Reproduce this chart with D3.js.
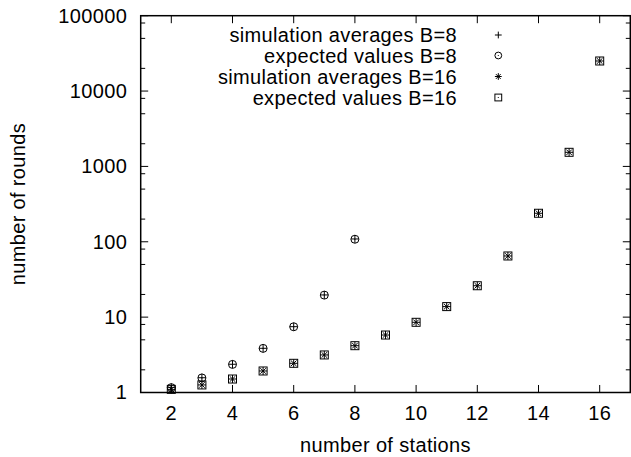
<!DOCTYPE html>
<html>
<head>
<meta charset="utf-8">
<script src="https://cdn.jsdelivr.net/npm/d3@7"></script>
<style>
  body { margin: 0; background: #fff; }
  text { font-family: "Liberation Sans", Arial, Helvetica, sans-serif; fill: #000; letter-spacing: 0.35px; }
</style>
</head>
<body>
<div id="chart"></div>
<script>
// Data
const stationsB8 = [2, 3, 4, 5, 6, 7, 8];
const simB8 = [1.17, 1.57, 2.37, 3.86, 7.47, 19.7, 109];
const expB8 = [1.16, 1.56, 2.36, 3.85, 7.45, 19.6, 108];

const stationsB16 = [2, 3, 4, 5, 6, 7, 8, 9, 10, 11, 12, 13, 14, 15, 16];
const simB16 = [1.10, 1.26, 1.51, 1.93, 2.44, 3.15, 4.18, 5.79, 8.54, 13.8, 26.1, 64.8, 239, 1539, 25060];
const expB16 = [1.10, 1.26, 1.51, 1.93, 2.44, 3.15, 4.18, 5.79, 8.54, 13.8, 26.1, 64.8, 239, 1539, 25060];

const xTicks = [2, 4, 6, 8, 10, 12, 14, 16];
const yTicks = [1, 10, 100, 1000, 10000, 100000];
const yMinorSteps = [2, 5, 8];

const legendLabels = [
  "simulation averages B=8",
  "expected values B=8",
  "simulation averages B=16",
  "expected values B=16"
];

// Dimensions
const W = 631, H = 457;
const margin = { top: 15.7, right: 0.7, bottom: 64.5, left: 140.7 };
const width = W - margin.left - margin.right;
const height = H - margin.top - margin.bottom;

const svg = d3.select("#chart")
  .append("svg")
  .attr("width", W)
  .attr("height", H);

const g = svg.append("g")
  .attr("transform", `translate(${margin.left},${margin.top})`);

// Scales
const x = d3.scaleLinear().domain([1, 17]).range([0, width]);
const y = d3.scaleLog().domain([1, 100000]).range([height, 0]);

const fontSize = 20;
const majorLen = 7.5, minorLen = 4.5;

// Minor y ticks
const yMinor = [];
yTicks.slice(0, -1).forEach(t => yMinorSteps.forEach(k => yMinor.push(t * k)));

// Inward ticks on all four sides
const tickG = g.append("g").attr("stroke", "#000").attr("stroke-width", 1);
xTicks.forEach(t => {
  tickG.append("line").attr("x1", x(t)).attr("x2", x(t)).attr("y1", height).attr("y2", height - majorLen);
  tickG.append("line").attr("x1", x(t)).attr("x2", x(t)).attr("y1", 0).attr("y2", majorLen);
});
yTicks.forEach(t => {
  tickG.append("line").attr("x1", 0).attr("x2", majorLen).attr("y1", y(t)).attr("y2", y(t));
  tickG.append("line").attr("x1", width).attr("x2", width - majorLen).attr("y1", y(t)).attr("y2", y(t));
});
yMinor.forEach(t => {
  tickG.append("line").attr("x1", 0).attr("x2", minorLen).attr("y1", y(t)).attr("y2", y(t));
  tickG.append("line").attr("x1", width).attr("x2", width - minorLen).attr("y1", y(t)).attr("y2", y(t));
});

// Tick labels
g.selectAll(".xlab")
  .data(xTicks)
  .enter()
  .append("text")
  .attr("class", "xlab")
  .attr("x", d => x(d))
  .attr("y", height + 21)
  .attr("dy", "0.35em")
  .style("text-anchor", "middle")
  .style("font-size", fontSize + "px")
  .text(d => d);

g.selectAll(".ylab")
  .data(yTicks)
  .enter()
  .append("text")
  .attr("class", "ylab")
  .attr("x", -13.5)
  .attr("y", d => y(d))
  .attr("dy", "0.35em")
  .style("text-anchor", "end")
  .style("font-size", fontSize + "px")
  .text(d => d);

// Frame
g.append("rect")
  .attr("width", width)
  .attr("height", height)
  .attr("fill", "none")
  .attr("stroke", "#000")
  .attr("stroke-width", 1.5);

// Axis titles
svg.append("text")
  .attr("x", margin.left + width / 2)
  .attr("y", 452)
  .style("text-anchor", "middle")
  .style("font-size", fontSize + "px")
  .text("number of stations");

svg.append("text")
  .attr("transform", `translate(25,${margin.top + height / 2}) rotate(-90)`)
  .style("text-anchor", "middle")
  .style("font-size", fontSize + "px")
  .text("number of rounds");

// Marker drawers (gnuplot style point types)
function drawPlus(sel, ms) {
  sel.append("path").attr("d", `M${-ms},0H${ms}M0,${-ms}V${ms}`);
}
function drawCircle(sel, ms) {
  sel.append("circle").attr("r", ms).attr("fill", "none");
  sel.append("circle").attr("r", 0.6).attr("fill", "#000").attr("stroke", "none");
}
function drawStar(sel, ms) {
  const d = ms * 0.7;
  sel.append("path").attr("d", `M${-ms},0H${ms}M0,${-ms}V${ms}M${-d},${-d}L${d},${d}M${-d},${d}L${d},${-d}`);
}
function drawBox(sel, ms) {
  sel.append("rect").attr("x", -ms).attr("y", -ms).attr("width", 2 * ms).attr("height", 2 * ms).attr("fill", "none");
  sel.append("circle").attr("r", 0.6).attr("fill", "#000").attr("stroke", "none");
}

const series = [
  { xs: stationsB8, ys: simB8, draw: drawPlus },
  { xs: stationsB8, ys: expB8, draw: drawCircle },
  { xs: stationsB16, ys: simB16, draw: drawStar },
  { xs: stationsB16, ys: expB16, draw: drawBox }
];

series.forEach(s => {
  const pts = g.append("g")
    .selectAll("g")
    .data(s.xs.map((v, i) => [v, s.ys[i]]))
    .enter()
    .append("g")
    .attr("transform", d => `translate(${x(d[0])},${y(d[1])})`)
    .attr("stroke", "#000")
    .attr("stroke-width", 1)
    .attr("fill", "none");
  pts.each(function () { s.draw(d3.select(this), 4); });
});

// Legend
const legendRowsY = [35, 55.5, 76.5, 97.5];
legendLabels.forEach((lab, i) => {
  svg.append("text")
    .attr("x", 457)
    .attr("y", legendRowsY[i])
    .attr("dy", "0.35em")
    .style("text-anchor", "end")
    .style("font-size", fontSize + "px")
    .text(lab);

  const sym = svg.append("g")
    .attr("transform", `translate(498.3,${legendRowsY[i]})`)
    .attr("stroke", "#000")
    .attr("stroke-width", 1)
    .attr("fill", "none");
  series[i].draw(sym, 3.4);
});
</script>
</body>
</html>
